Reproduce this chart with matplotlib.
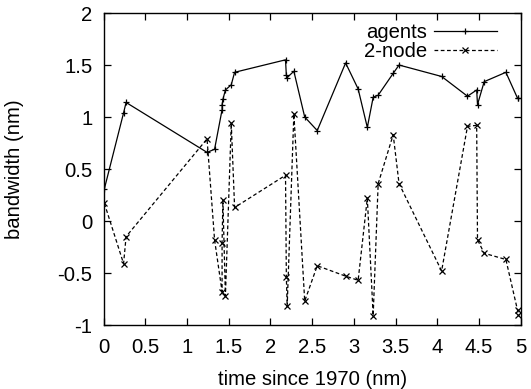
import matplotlib
matplotlib.use("Agg")
import matplotlib.pyplot as plt

# data
time = [0.01, 0.24, 0.27, 1.24, 1.33, 1.42, 1.42, 1.43, 1.46, 1.53, 1.57,
        2.18, 2.19, 2.20, 2.28, 2.41, 2.56, 2.90, 3.05, 3.16, 3.23, 3.29,
        3.47, 3.54, 4.05, 4.36, 4.47, 4.48, 4.56, 4.82, 4.96, 4.97]
agents = [0.31, 1.04, 1.14, 0.66, 0.69, 1.07, 1.12, 1.17, 1.26, 1.31, 1.43,
          1.55, 1.40, 1.38, 1.44, 1.00, 0.87, 1.52, 1.27, 0.90, 1.19, 1.21,
          1.42, 1.50, 1.39, 1.20, 1.26, 1.12, 1.34, 1.43, 1.18, 1.18]
two_node = [0.17, -0.41, -0.15, 0.79, -0.18, -0.68, -0.21, 0.20, -0.72, 0.94, 0.13,
            0.44, -0.54, -0.82, 1.03, -0.77, -0.43, -0.53, -0.57, 0.22, -0.91, 0.36,
            0.83, 0.36, -0.48, 0.91, 0.92, -0.18, -0.31, -0.37, -0.86, -0.90]

xticks = [0, 0.5, 1, 1.5, 2, 2.5, 3, 3.5, 4, 4.5, 5]
yticks = [-1, -0.5, 0, 0.5, 1, 1.5, 2]

plt.rcParams['font.family'] = ['Liberation Sans', 'DejaVu Sans']
plt.rcParams['font.size'] = 14.6

fig = plt.figure(figsize=(5.31, 3.89), dpi=100)
ax = fig.add_axes([0.195, 0.1645, 0.786, 0.802])

ax.plot(time, agents, color='black', lw=0.9, marker='+', ms=5, mew=0.9, label='agents')
ax.plot(time, two_node, color='black', lw=0.9, ls=(0, (3, 2)), marker='x', ms=4, mew=0.9,
        label='2-node')

ax.set_xlim(0, 5)
ax.set_ylim(-1, 2)
ax.set_xticks(xticks)
ax.set_yticks(yticks)
ax.set_xticklabels([f"{t:g}" for t in xticks])
ax.set_yticklabels([f"{t:g}" for t in yticks])
ax.tick_params(direction='in', top=True, right=True, length=5, width=0.9)
ax.tick_params(axis='x', pad=9)
ax.tick_params(axis='y', pad=8)
for s in ax.spines.values():
    s.set_linewidth(1.0)

ax.set_xlabel("time since 1970 (nm)", labelpad=10)
ax.set_ylabel("bandwidth (nm)", labelpad=24)

ax.legend(loc='upper right', bbox_to_anchor=(0.9425, 0.967), frameon=False,
          markerfirst=False, numpoints=1, handlelength=3.1, borderaxespad=0,
          borderpad=0, labelspacing=0.0, handletextpad=0.35)

fig.savefig("out.png", dpi=100)
